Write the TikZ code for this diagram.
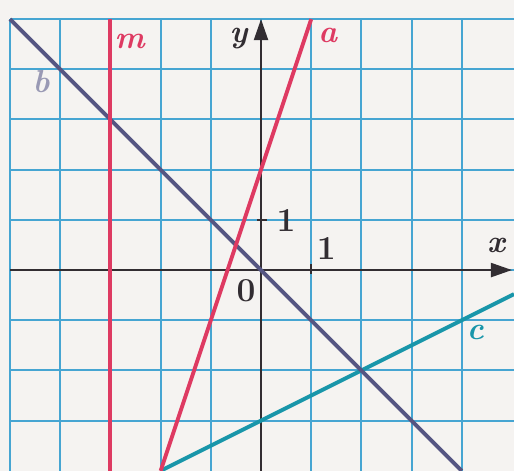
\documentclass[tikz,border=0pt]{standalone}
\usepackage{tikz}
\usetikzlibrary{arrows.meta, positioning, calc}
\definecolor{paper}{RGB}{245, 243, 241}
\definecolor{gridblue}{RGB}{70, 165, 210}
\definecolor{linered}{RGB}{222, 58, 98}
\definecolor{lineb}{RGB}{85, 85, 130}
\definecolor{linec}{RGB}{25, 150, 170}
\definecolor{axisdark}{RGB}{50, 45, 50}

\begin{document}
\begin{tikzpicture}[
          gridline/.style={gridblue, line width=1.1pt},
          axis/.style={axisdark, line width=1.2pt, -{Triangle[length=12pt, width=8pt]}},
          graph/.style={line width=2.2pt},
          lbl/.style={font=\fontsize{18}{20}\selectfont\bfseries\itshape, inner sep=1pt},
          num/.style={font=\fontsize{19}{20}\selectfont\bfseries, text=axisdark, inner sep=1pt},
        ]
        \fill[paper] (-5.2,-4.0) rectangle (5.04,5.38);
        \useasboundingbox (-5.2,-4.0) rectangle (5.04,5.38);
        % grid
        \foreach \i in {-5,...,4} \draw[gridline] (\i,-4.0) -- (\i,5);
        \foreach \j in {-3,...,5} \draw[gridline] (-5,\j) -- (5.04,\j);
        % axes
        \coordinate (xl) at (-5,0);
        \coordinate (xr) at (5.0,0);
        \coordinate (yb) at (0,-4.0);
        \coordinate (yt) at (0,5.0);
        \draw[axis] (xl) -- (xr);
        \draw[axis] (yb) -- (yt);
        \draw[axisdark, line width=1.2pt] (1,-0.08) -- (1,0.12);
        \draw[axisdark, line width=1.2pt] (-0.08,1) -- (0.12,1);
        % end points of the lines
        \coordinate (m1) at (-3,5);
        \coordinate (m2) at (-3,-4);
        \coordinate (a1) at (1,5);
        \coordinate (a2) at (-2,-4);
        \coordinate (b1) at (-5,5);
        \coordinate (b2) at (4,-4);
        \coordinate (c1) at (-2,-4);
        \coordinate (c2) at (5.04,-0.48);
        \draw[graph, linec] (c1) -- (c2);
        \draw[graph, lineb] (b1) -- (b2);
        \draw[graph, linered] (m1) -- (m2);
        \draw[graph, linered] (a1) -- (a2);
        % labels
        \node[lbl, text=linered] (mlab) at (-2.62,4.55) {m};
        \node[lbl, text=linered] (alab) at (1.33,4.68) {a};
        \node[lbl, text=lineb!60] (blab) at (-4.38,3.75) {b};
        \node[lbl, text=linec] (clab) at (4.27,-1.25) {c};
        \node[lbl, text=axisdark] (ylab) at (-0.45,4.62) {y};
        \node[lbl, text=axisdark] (xlab) at (4.68,0.5) {x};
        \node[num] (one_y) at (0.5,0.98) {1};
        \node[num] (one_x) at (1.3,0.42) {1};
        \node[num] (zero) at (-0.3,-0.42) {0};
      \end{tikzpicture}
\end{document}
